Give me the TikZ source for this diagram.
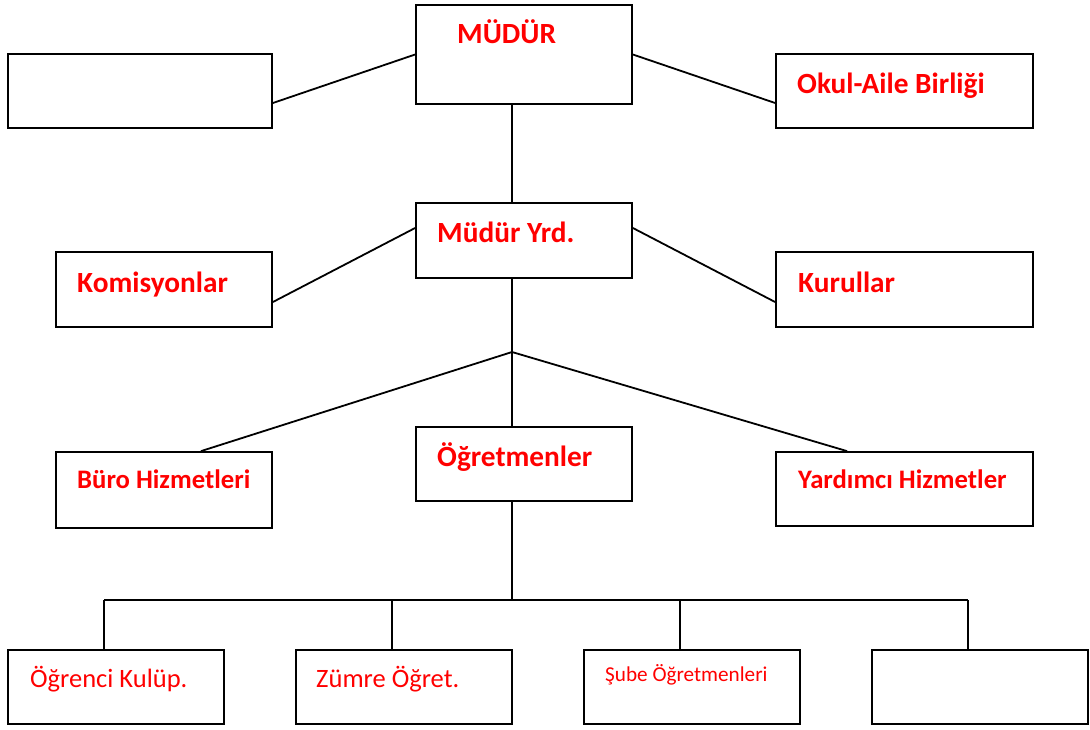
\documentclass[tikz,border=0pt]{standalone}
\usepackage{fontspec}
\setmainfont{Carlito}
\tikzstyle{kutu}=[draw, line width=1.8pt, rectangle, minimum width=216pt, minimum height=74pt, inner sep=0pt]
\tikzstyle{baslik}=[anchor=base west, inner sep=0pt, text=red, font=\fontsize{29.3}{34}\selectfont\bfseries]
\tikzstyle{yazi}=[anchor=base west, inner sep=0pt, text=red, font=\fontsize{26.5}{32}\selectfont]
\tikzstyle{hat}=[line width=1.8pt]
\begin{document}
\begin{tikzpicture}[x=1pt, y=-1pt]
    \useasboundingbox (0,0) rectangle (1090,729);
    % kutular
    \node[kutu, minimum height=99pt] (mudur) at (524, 54.5) {};
    \node[kutu, minimum width=264pt] (bos1) at (140, 91) {};
    \node[kutu, minimum width=257pt] (okul) at (904.5, 91) {};
    \node[kutu, minimum height=75pt] (yrd) at (524, 240.5) {};
    \node[kutu, minimum height=75pt] (komisyon) at (164, 289.5) {};
    \node[kutu, minimum width=257pt, minimum height=75pt] (kurul) at (904.5, 289.5) {};
    \node[kutu, minimum height=76pt] (buro) at (164, 490) {};
    \node[kutu] (ogretmen) at (524, 464) {};
    \node[kutu, minimum width=257pt] (yardimci) at (904.5, 489) {};
    \node[kutu] (ogrenci) at (116, 687) {};
    \node[kutu] (zumre) at (404, 687) {};
    \node[kutu] (sube) at (692, 687) {};
    \node[kutu] (bos2) at (980, 687) {};
    % yazilar
    \node[baslik] (mudur-t) at (457, 43) {MÜDÜR};
    \node[baslik] (okul-t) at (797, 93) {Okul-Aile Birliği};
    \node[baslik] (yrd-t) at (437, 242) {Müdür Yrd.};
    \node[baslik] (komisyon-t) at (77, 292) {Komisyonlar};
    \node[baslik] (kurul-t) at (798, 292) {Kurullar};
    \node[baslik] (ogretmen-t) at (437, 466) {Öğretmenler};
    \node[baslik, font=\fontsize{26.7}{32}\selectfont\bfseries] (buro-t) at (77, 488) {Büro Hizmetleri};
    \node[baslik, font=\fontsize{26.7}{32}\selectfont\bfseries] (yardimci-t) at (798, 488) {Yardımcı Hizmetler};
    \node[yazi] (ogrenci-t) at (30, 687) {Öğrenci Kulüp.};
    \node[yazi] (zumre-t) at (316, 687) {Zümre Öğret.};
    \node[yazi, font=\fontsize{21.2}{26}\selectfont] (sube-t) at (605, 681) {Şube Öğretmenleri};
    % baglantilar
    \coordinate (kavsak) at (512, 352);
    \coordinate (bara) at (512, 600);
    \draw[hat] ([yshift=-12pt]bos1.east) -- (mudur.west);
    \draw[hat] (mudur.east) -- ([yshift=-12pt]okul.west);
    \draw[hat] ([xshift=-12pt]mudur.south) -- ([xshift=-12pt]yrd.north);
    \draw[hat] ([yshift=-12.5pt]komisyon.east) -- ([yshift=12.5pt]yrd.west);
    \draw[hat] ([yshift=12.5pt]yrd.east) -- ([yshift=-12.5pt]kurul.west);
    \draw[hat] ([xshift=-12pt]yrd.south) -- ([xshift=-12pt]ogretmen.north);
    \draw[hat] (kavsak) -- ([xshift=37pt]buro.north);
    \draw[hat] (kavsak) -- ([xshift=-57.5pt]yardimci.north);
    \draw[hat] ([xshift=-12pt]ogretmen.south) -- (bara);
    \draw[hat] ([xshift=-12pt]ogrenci.north |- bara) -- ([xshift=-12pt]bos2.north |- bara);
    \foreach \k in {ogrenci, zumre, sube, bos2}
        \draw[hat] ([xshift=-12pt]\k.north) -- ([xshift=-12pt]\k.north |- bara);
\end{tikzpicture}
\end{document}
